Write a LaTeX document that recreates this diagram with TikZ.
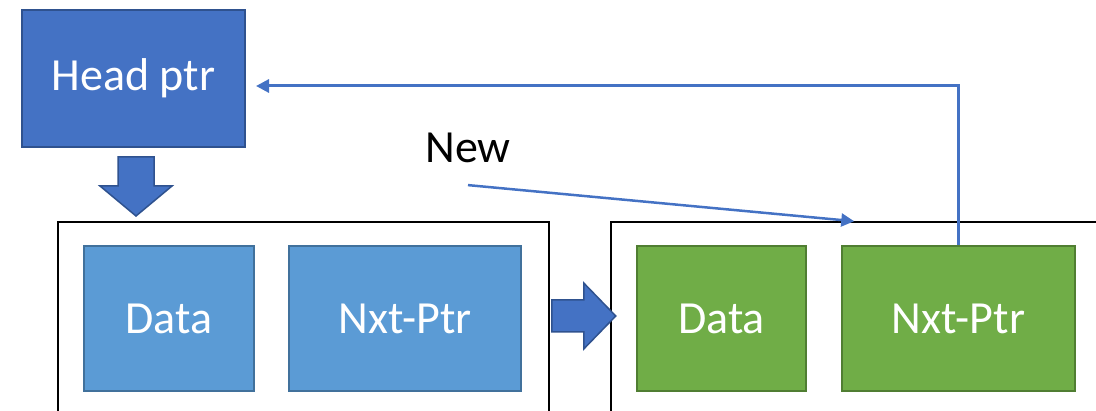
\documentclass[tikz,border=0pt]{standalone}
\usepackage{fontspec}
\setmainfont{Carlito}
\usetikzlibrary{calc,arrows.meta}

\definecolor{headfill}{HTML}{4472C4}
\definecolor{headline}{HTML}{2F528F}
\definecolor{bluefill}{HTML}{5B9BD5}
\definecolor{blueline}{HTML}{41719C}
\definecolor{greenfill}{HTML}{70AD47}
\definecolor{greenline}{HTML}{507E32}

\tikzset{
  cell/.style={draw, line width=2pt, text=white, inner sep=0pt,
    minimum height=145pt, font=\fontsize{46}{54}\selectfont},
  bluecell/.style={cell, fill=bluefill, draw=blueline},
  greencell/.style={cell, fill=greenfill, draw=greenline},
  listbox/.style={draw=black, line width=1.5pt, inner sep=0pt, minimum height=198pt},
  blockarrow/.style={fill=headfill, draw=headline, line width=1.5pt},
  link/.style={draw=headfill, line width=3pt, -{Triangle[length=13pt,width=13pt]}}
}

\begin{document}
\begin{tikzpicture}[x=1pt,y=-1pt]
  \clip (0,0) rectangle (1096,411);
  \useasboundingbox (0,0) rectangle (1096,411);

  % head pointer
  \node[cell, fill=headfill, draw=headline, minimum width=223pt, minimum height=137pt]
    (head) at (133.5,78.5) {Head ptr};

  % two list elements
  \node[listbox, minimum width=491pt] (listA) at (303.5,321) {};
  \node[listbox, minimum width=509pt] (listB) at (865.5,321) {};

  \node[bluecell, minimum width=170pt] (dataA) at (169,318.5) {Data};
  \node[bluecell, minimum width=232pt] (nxtA) at (405,318.5) {Nxt-Ptr};
  \node[greencell, minimum width=169pt] (dataB) at (721.5,318.5) {Data};
  \node[greencell, minimum width=233pt] (nxtB) at (958.5,318.5) {Nxt-Ptr};

  \node[font=\fontsize{46}{54}\selectfont, inner sep=0pt] (new) at (468,148) {New};

  % block arrows
  \draw[blockarrow] ($(head.south)+(-15.5,9)$) -- ++(36,0) -- ++(0,29) -- ++(18,0)
    -- ++(-36,30) -- ++(-36,-30) -- ++(18,0) -- cycle;
  \draw[blockarrow] ($(listA.east)+(2,-21)$) -- ++(32,0) -- ++(0,-17) -- ++(32,33)
    -- ++(-32,33) -- ++(0,-17) -- ++(-32,0) -- cycle;

  % pointers
  \coordinate (headin) at ($(head.east)+(10,7.5)$);
  \coordinate (newtip) at ($(listB.north west)+(244,0)$);
  \draw[link] (nxtB.north) |- (headin);
  \draw[link, line width=2.5pt] ($(new.south)+(0,22)$) -- (newtip);
\end{tikzpicture}
\end{document}
